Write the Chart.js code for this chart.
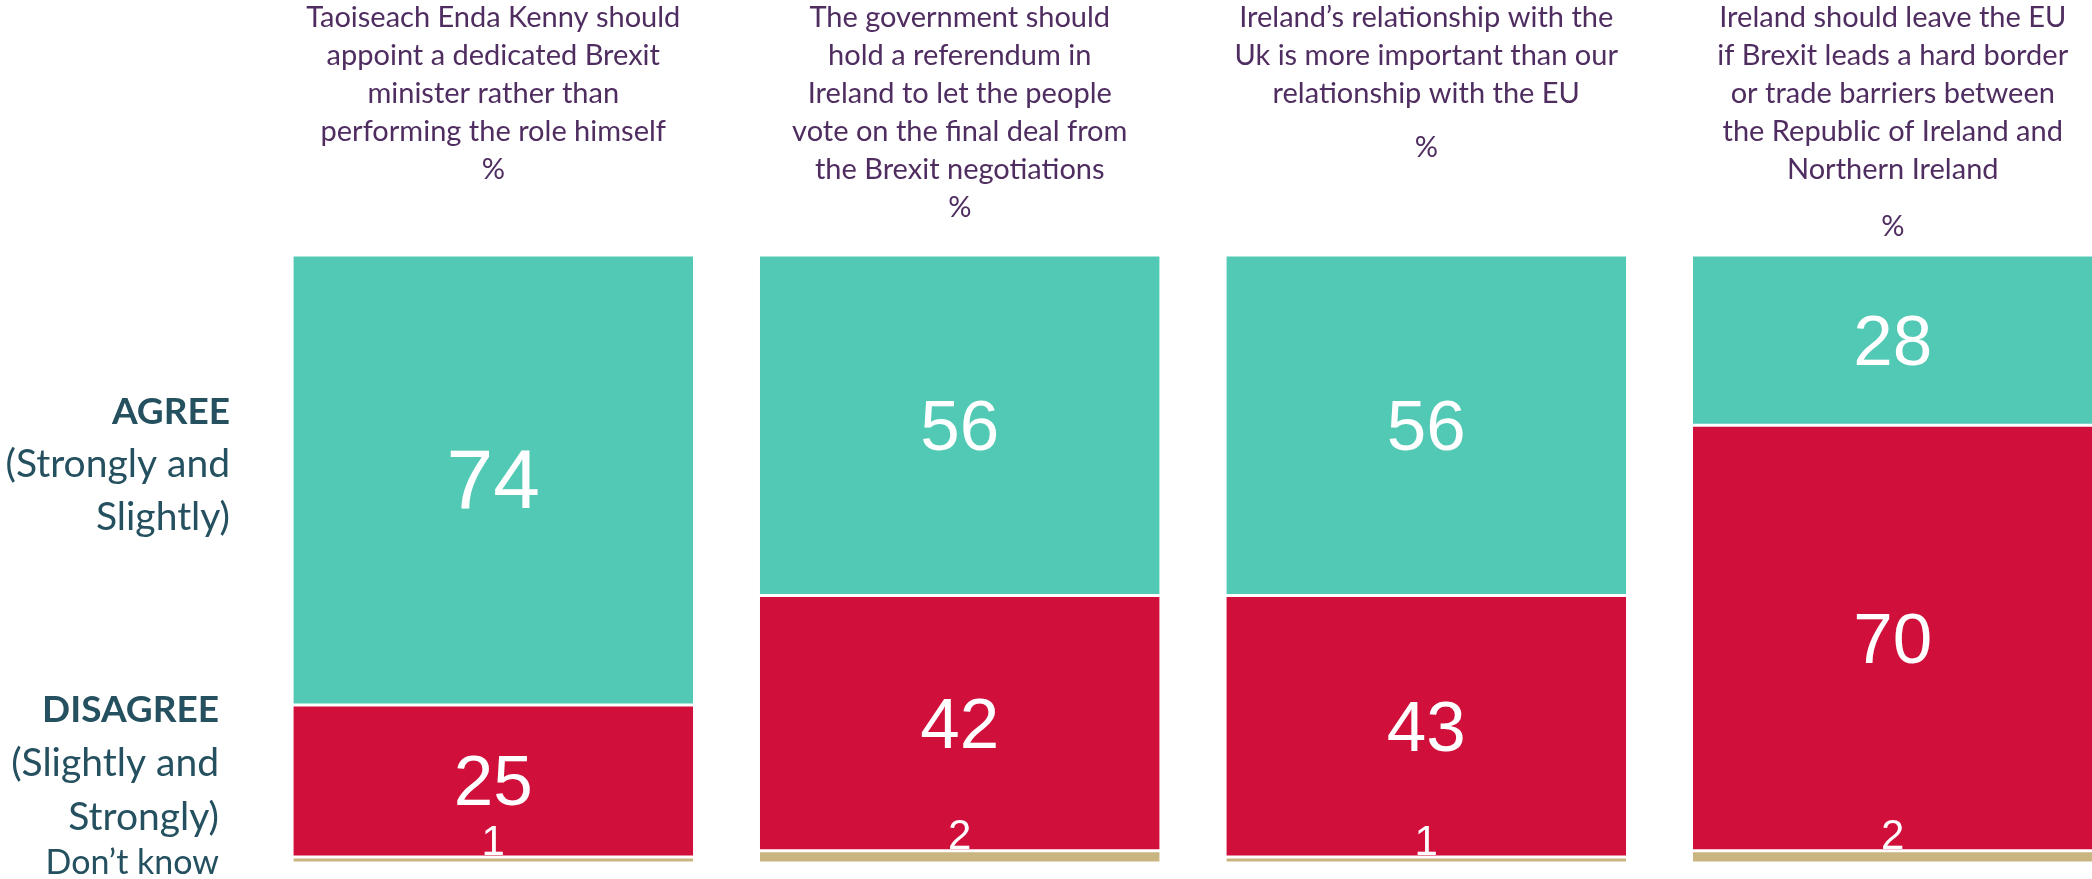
<!DOCTYPE html>
<html>
<head>
<meta charset="utf-8">
<script src="https://cdn.jsdelivr.net/npm/chart.js@4/dist/chart.umd.min.js"></script>
<style>
  html, body { margin: 0; padding: 0; background: #fff; overflow: hidden; }
</style>
</head>
<body>
<canvas id="chart" width="2130" height="879"></canvas>
<script>
// statements, one per bar (header lines as shown above each bar)
const statements = [
    ['Taoiseach Enda Kenny should', 'appoint a dedicated Brexit', 'minister rather than', 'performing the role himself'],
    ['The government should', 'hold a referendum in', 'Ireland to let the people', 'vote on the final deal from', 'the Brexit negotiations'],
    ['Ireland\u2019s relationship with the', 'Uk is more important than our', 'relationship with the EU'],
    ['Ireland should leave the EU', 'if Brexit leads a hard border', 'or trade barriers between', 'the Republic of Ireland and', 'Northern Ireland']
];

const agree = [74, 56, 56, 28];
const disagree = [25, 42, 43, 70];
const dontKnow = [1, 2, 1, 2];

const TEAL = '#52C9B5';
const RED = '#D0103A';
const TAN = '#C9B580';
const PURPLE = '#4F2D60';
const SLATE = '#24505F';

// headers above bars + side labels
const textPlugin = {
    id: 'texts',
    afterDraw(chart) {
        const ctx = chart.ctx;
        const xs = chart.scales.x;
        const pctGap = [0, 0, 16, 19];
        ctx.save();
        ctx.fillStyle = PURPLE;
        ctx.font = '29px Lato';
        ctx.textAlign = 'center';
        ctx.textBaseline = 'middle';
        statements.forEach((lines, i) => {
            const cx = xs.getPixelForValue(i);
            let y = 18;
            lines.forEach(l => {
                ctx.fillText(l, cx, y);
                y += 38;
            });
            ctx.fillText('%', cx, y + pctGap[i]);
        });

        ctx.fillStyle = SLATE;
        ctx.textAlign = 'right';
        const left = chart.chartArea.left;
        ctx.font = 'bold 37px Lato';
        ctx.fillText('AGREE', left - 30, 412);
        ctx.font = '39px Lato';
        ctx.fillText('(Strongly and', left - 30, 464);
        ctx.fillText('Slightly)', left - 30, 517);
        ctx.font = 'bold 37px Lato';
        ctx.fillText('DISAGREE', left - 41, 710);
        ctx.font = '39px Lato';
        ctx.fillText('(Slightly and', left - 41, 763);
        ctx.fillText('Strongly)', left - 41, 817);
        ctx.font = '34px Lato';
        ctx.fillText('Don\u2019t know', left - 41, 863);
        ctx.restore();
    }
};

// value labels inside the bars
const valuePlugin = {
    id: 'values',
    afterDatasetsDraw(chart) {
        const ctx = chart.ctx;
        const bigSize = [84, 71, 71, 71];
        ctx.save();
        ctx.fillStyle = '#ffffff';
        ctx.textAlign = 'center';
        [0, 1].forEach(d => {
            const meta = chart.getDatasetMeta(d);
            meta.data.forEach((bar, i) => {
                const size = d === 0 ? bigSize[i] : 71;
                ctx.font = size + 'px "Liberation Sans", Arial';
                ctx.textBaseline = 'middle';
                ctx.fillText(chart.data.datasets[d].data[i], bar.x, (bar.y + bar.base) / 2 + 5);
            });
        });
        const dk = chart.getDatasetMeta(2);
        ctx.font = '42px "Liberation Sans", Arial';
        ctx.textBaseline = 'alphabetic';
        dk.data.forEach((bar, i) => {
            ctx.fillText(dontKnow[i], bar.x, bar.y - 2);
        });
        ctx.restore();
    }
};

new Chart(document.getElementById('chart'), {
    type: 'bar',
    data: {
        labels: statements.map(s => s.join(' ')),
        datasets: [
            { label: 'Agree', data: agree, backgroundColor: TEAL, order: 3 },
            { label: 'Disagree', data: disagree, backgroundColor: RED, order: 2 },
            { label: 'Don\u2019t know', data: dontKnow, backgroundColor: TAN, order: 1 }
        ].map(ds => Object.assign(ds, {
            borderColor: '#ffffff',
            borderWidth: { top: 1.5, bottom: 1.5, left: 0, right: 0 },
            borderSkipped: false,
            barPercentage: 0.857,
            categoryPercentage: 1
        }))
    },
    options: {
        responsive: false,
        animation: false,
        layout: { padding: { left: 260, right: 4, top: 255, bottom: 16 } },
        plugins: {
            legend: { display: false },
            tooltip: { enabled: false }
        },
        scales: {
            x: { stacked: true, display: false },
            y: { stacked: true, display: false, min: 0, max: 100 }
        }
    },
    plugins: [valuePlugin, textPlugin]
});
</script>
</body>
</html>
